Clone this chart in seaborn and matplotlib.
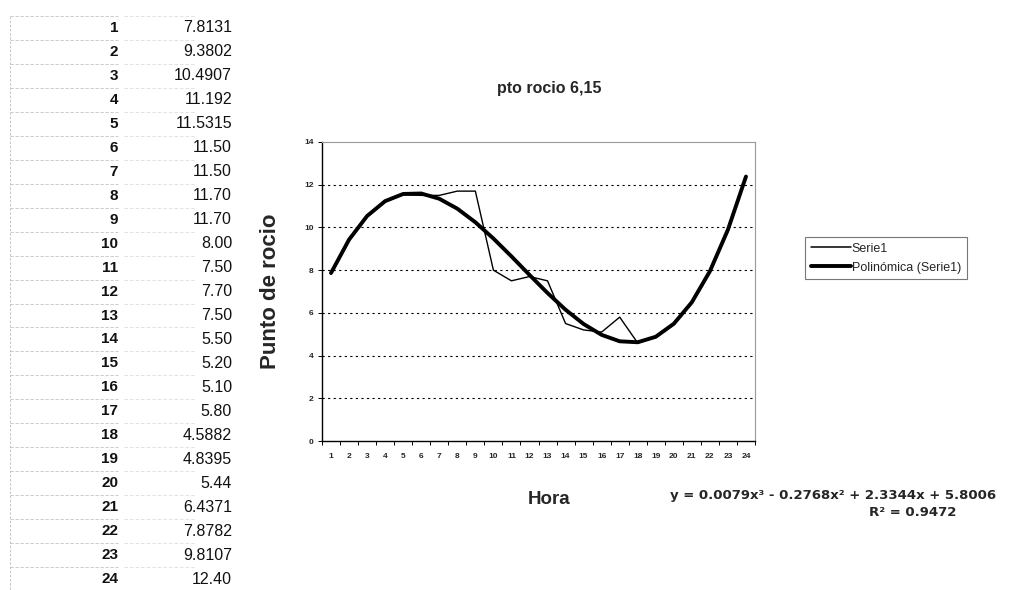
import numpy as np
import pandas as pd
import matplotlib
matplotlib.use("Agg")
import matplotlib.pyplot as plt
import seaborn as sns
from matplotlib.lines import Line2D

# ---- data ----
hours = list(range(1, 25))
value_labels = ["7.8131", "9.3802", "10.4907", "11.192", "11.5315", "11.50",
                "11.50", "11.70", "11.70", "8.00", "7.50", "7.70", "7.50",
                "5.50", "5.20", "5.10", "5.80", "4.5882", "4.8395", "5.44",
                "6.4371", "7.8782", "9.8107", "12.40"]
dew_point = [float(s) for s in value_labels]
y_ticks = [0, 2, 4, 6, 8, 10, 12, 14]
title = "pto rocio 6,15"
eq_text = "y = 0.0079x³ - 0.2768x² + 2.3344x + 5.8006"
r2_text = "R² = 0.9472"

sns.set_theme(style="white")
plt.rcParams['font.family'] = ['Liberation Sans', 'DejaVu Sans']

W, H = 1013, 590
fig = plt.figure(figsize=(W / 100, H / 100), dpi=100)

def fx(px):
    return px / W

def fy(py):
    return 1 - py / H

# ---- left table ----
row_y0, row_dy = 28, 23.96
for i, (h, lab) in enumerate(zip(hours, value_labels)):
    y = row_y0 + i * row_dy
    fig.text(fx(118), fy(y), str(h), ha="right", va="center",
             fontsize=11, fontweight="bold", color="#111111")
    fig.text(fx(232), fy(y), lab, ha="right", va="center",
             fontsize=11.5, color="#111111")
for i in range(25):
    y = row_y0 - 12 + i * row_dy
    fig.add_artist(Line2D([fx(10), fx(118)], [fy(y), fy(y)],
                          color="#c4c4c4", lw=0.6, ls=(0, (4, 2))))
    fig.add_artist(Line2D([fx(124), fx(195)], [fy(y), fy(y)],
                          color="#d6d6d6", lw=0.5, ls=(0, (5, 3))))
fig.add_artist(Line2D([fx(10), fx(10)], [fy(row_y0 - 12), fy(row_y0 - 12 + 24 * row_dy)],
                      color="#bbbbbb", lw=0.6, ls=(0, (3, 2))))

# ---- chart ----
ax = fig.add_axes([fx(322), fy(441), fx(755) - fx(322), fy(142) - fy(441)])
df = pd.DataFrame({"Hora": hours, "Serie1": dew_point})
coef = np.polyfit(df["Hora"], df["Serie1"], 3)
df["fit"] = np.polyval(coef, df["Hora"])

sns.lineplot(data=df, x="Hora", y="Serie1", ax=ax, color="black", lw=1.0)
sns.lineplot(data=df, x="Hora", y="fit", ax=ax, color="black", lw=2.8)

ax.set_xlim(0.5, 24.5)
ax.set_ylim(0, 14)
ax.set_xticks(hours)
ax.set_xticklabels([str(h) for h in hours], fontsize=6, fontweight="bold")
ax.set_xticks(np.arange(0.5, 25, 1), minor=True)
ax.tick_params(axis="x", which="major", length=0, pad=9)
ax.tick_params(axis="x", which="minor", length=3, width=0.7, color="black", direction="out", bottom=True)
ax.set_yticks(y_ticks)
ax.set_yticklabels([str(v) for v in y_ticks], fontsize=6, fontweight="bold")
ax.tick_params(axis="y", length=3, width=0.7, color="black", direction="out", left=True, pad=3)
for v in y_ticks[1:-1]:
    ax.axhline(v, color="black", lw=0.8, ls=(0, (2, 3)), zorder=0)

for s in ["left", "bottom"]:
    ax.spines[s].set_color("black")
    ax.spines[s].set_linewidth(1.0)
for s in ["top", "right"]:
    ax.spines[s].set_color("#999999")
    ax.spines[s].set_linewidth(0.8)

ax.set_xlabel("")
ax.set_ylabel("")
fig.text(fx(270), fy(291), "Punto de rocio", rotation=90, ha="center", va="center",
         fontsize=16, fontweight="bold")
fig.text(fx(549), fy(500), "Hora", ha="center", va="center", fontsize=13.5, fontweight="bold")
fig.text(fx(549), fy(88), title, ha="center", va="center", fontsize=11.5, fontweight="bold")

handles = [Line2D([], [], color="black", lw=1.1), Line2D([], [], color="black", lw=2.8)]
leg = fig.legend(handles, ["Serie1", "Polinómica (Serie1)"],
                 loc="upper left", bbox_to_anchor=(fx(805), fy(237)),
                 fontsize=9, frameon=True, fancybox=False, handlelength=3.2,
                 handletextpad=0.1, borderpad=0.45, labelspacing=0.55, borderaxespad=0)
leg.get_frame().set_edgecolor("#555555")
leg.get_frame().set_linewidth(0.8)

fig.text(fx(833), fy(496), eq_text, ha="center", va="center", fontsize=9.5,
         fontweight="bold", family="DejaVu Sans")
fig.text(fx(913), fy(513), r2_text, ha="center", va="center", fontsize=9.5,
         fontweight="bold", family="DejaVu Sans")

fig.savefig("out.png", dpi=100, facecolor="white")
